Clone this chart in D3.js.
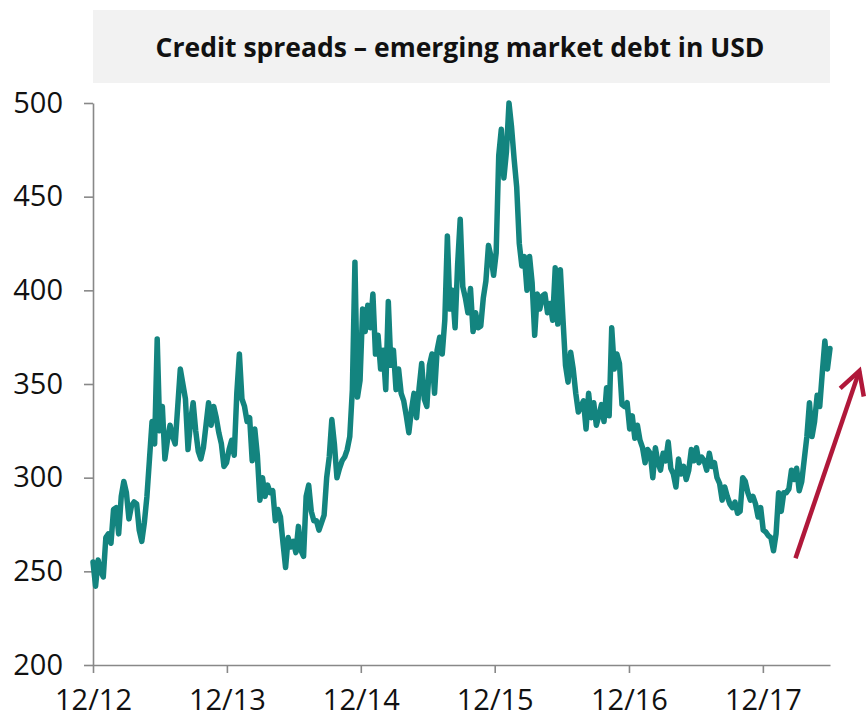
<!DOCTYPE html>
<html>
<head>
<meta charset="utf-8">
<title>Credit spreads</title>
<script src="https://d3js.org/d3.v7.min.js"></script>
<style>
  body { margin: 0; background: #fff; }
  svg { display: block; }
</style>
</head>
<body>
<svg width="866" height="719"></svg>
<script>
// weekly spread values (bp), first week ending 31 Dec 2012
var startDate = new Date(2012, 11, 31);
var spreads = [
  255,242,256,250,247,268,270,265,283,284,270,290,298,292,278,285,287,286,272,266,
  276,290,310,330,318,374,325,338,310,320,328,322,318,338,358,350,342,315,330,340,
  325,314,310,316,328,340,328,338,332,324,
  318,306,308,315,320,312,345,366,342,338,330,332,309,326,312,288,300,290,296,292,
  293,277,283,279,265,252,268,263,266,260,274,261,258,290,296,282,277,277,272,276,
  280,300,311,331,318,300,305,309,
  311,315,322,347,415,343,352,390,378,392,380,398,366,376,358,368,347,394,360,368,
  347,358,345,341,333,324,336,345,332,348,361,342,338,360,366,345,368,375,366,384,
  429,390,400,380,414,438,402,396,388,
  401,378,388,380,381,396,405,424,418,408,420,472,486,460,474,500,487,470,455,425,
  413,418,400,418,404,376,398,390,397,398,388,393,384,412,382,411,385,360,351,367,
  358,345,
  335,338,341,326,345,332,340,328,333,339,330,348,333,380,358,366,361,339,338,340,
  326,333,321,328,320,316,308,315,313,300,316,308,304,313,309,319,305,302,295,310,
  302,306,299,304,315,309,316,308,311,309,304,313,
  306,308,300,297,288,295,290,286,284,287,281,282,300,298,292,288,290,286,279,284,
  272,271,269,268,261,270,292,282,292,292,294,304,299,305,293,298,310,322,340,322,
  330,344,338,356,373,358,369
];
var tickDates = [new Date(2012,11,31), new Date(2013,11,31), new Date(2014,11,31),
                 new Date(2015,11,31), new Date(2016,11,31), new Date(2017,11,31)];
var tickLabels = ["12/12", "12/13", "12/14", "12/15", "12/16", "12/17"];
var yTicks = [200, 250, 300, 350, 400, 450, 500];
var titleText = "Credit spreads \u2013 emerging market debt in USD";
// trend arrow, in data space
var arrowFrom = { date: new Date(2018, 2, 30), value: 257 };
var arrowTo = { date: new Date(2018, 8, 20), value: 357 };

var series = spreads.map(function(v, i) {
    return { date: d3.timeWeek.offset(startDate, i), value: v };
});

var svg = d3.select("svg");
var plotLeft = 93, plotRight = 830, plotTop = 103, plotBottom = 665;

var x = d3.scaleTime()
    .domain([startDate, series[series.length - 1].date])
    .range([plotLeft, plotRight]);
var y = d3.scaleLinear().domain([200, 500]).range([plotBottom, plotTop]);

// title box
svg.append("rect")
    .attr("x", 93).attr("y", 10)
    .attr("width", 737).attr("height", 73)
    .attr("fill", "#f2f2f2");
svg.append("text")
    .attr("x", 460).attr("y", 57)
    .attr("text-anchor", "middle")
    .attr("font-family", "'Open Sans', sans-serif")
    .attr("font-weight", "bold")
    .attr("font-size", "26.5px")
    .attr("fill", "#111")
    .text(titleText);

var axisColor = "#888";

var yAxis = svg.append("g")
    .attr("transform", "translate(" + plotLeft + ",0)")
    .call(d3.axisLeft(y).tickValues(yTicks).tickSize(9).tickSizeOuter(0).tickPadding(21));
var xAxis = svg.append("g")
    .attr("transform", "translate(0," + plotBottom + ")")
    .call(d3.axisBottom(x).tickValues(tickDates).tickSize(8).tickSizeOuter(0).tickPadding(16)
        .tickFormat(function(d, i) { return tickLabels[i]; }));

[yAxis, xAxis].forEach(function(g) {
    g.selectAll("path, line").attr("stroke", axisColor).attr("stroke-width", 1.6);
    g.selectAll("text")
        .attr("font-family", "'Open Sans', sans-serif")
        .attr("font-size", "29px")
        .attr("fill", "#111");
});

var line = d3.line()
    .x(function(d) { return x(d.date); })
    .y(function(d) { return y(d.value); });

svg.append("path")
    .datum(series)
    .attr("fill", "none")
    .attr("stroke", "#13847f")
    .attr("stroke-width", 5.5)
    .attr("stroke-linejoin", "round")
    .attr("stroke-linecap", "round")
    .attr("d", line);

// arrow
var red = "#b0183a";
var x1 = x(arrowFrom.date), y1 = y(arrowFrom.value);
var x2 = x(arrowTo.date), y2 = y(arrowTo.value);
var ang = Math.atan2(y2 - y1, x2 - x1);
var headLen = 26, spread = 0.5;
svg.append("line")
    .attr("x1", x1).attr("y1", y1).attr("x2", x2).attr("y2", y2)
    .attr("stroke", red).attr("stroke-width", 4.5);
svg.append("path")
    .attr("d", "M" + (x2 - headLen * Math.cos(ang - spread)) + "," + (y2 - headLen * Math.sin(ang - spread)) +
        "L" + x2 + "," + y2 +
        "L" + (x2 - headLen * Math.cos(ang + spread)) + "," + (y2 - headLen * Math.sin(ang + spread)))
    .attr("fill", "none")
    .attr("stroke", red)
    .attr("stroke-width", 4.5)
    .attr("stroke-linejoin", "miter");
</script>
</body>
</html>
